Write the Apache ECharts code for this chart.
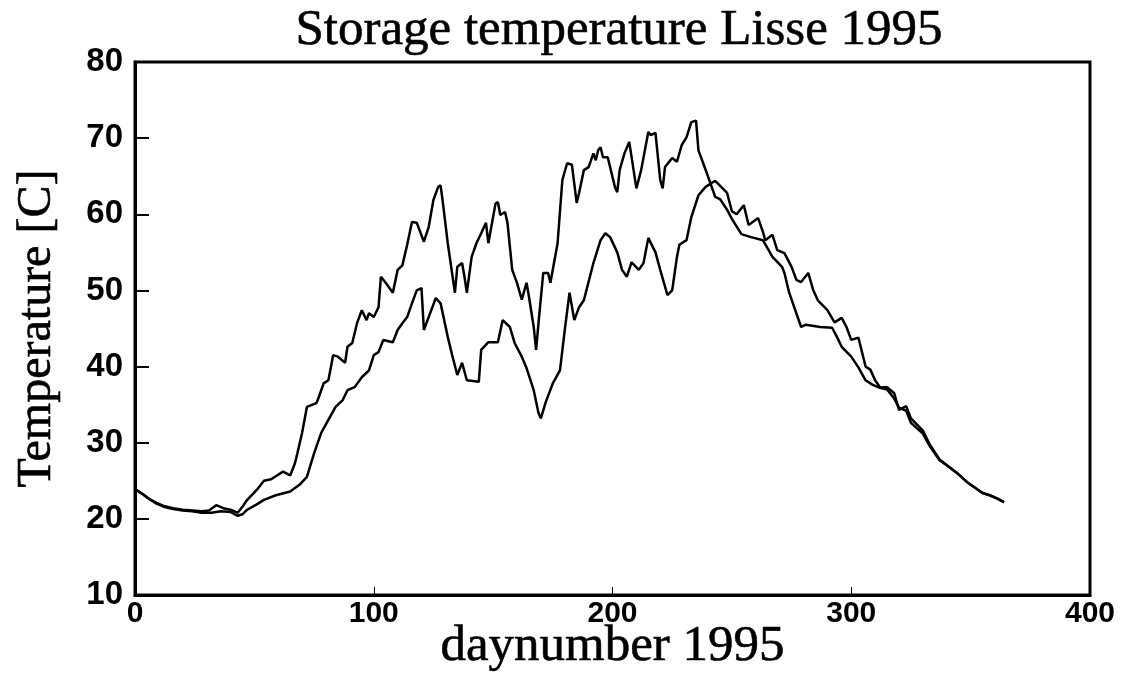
<!DOCTYPE html>
<html>
<head>
<meta charset="utf-8">
<script src="https://cdn.jsdelivr.net/npm/echarts@6/dist/echarts.min.js"></script>
<style>
  html, body { margin: 0; padding: 0; background: #fff; }
  #main { width: 1124px; height: 675px; }
</style>
</head>
<body>
<div id="main"></div>
<script>
// line 1: the warmer store (peaks near day 235)
var daysA = [0, 3, 6, 9, 12, 16, 20, 24, 28, 31, 34, 37, 40, 43, 45, 47, 51, 54, 57, 59,
  62, 65, 67, 68, 70, 72, 76, 77, 79, 81, 83, 85, 88, 89, 91, 93, 95, 97, 98, 100,
  102, 103, 105, 108, 110, 112, 114, 116, 118, 121, 123, 125, 127, 128, 129, 131, 134, 135, 137, 138,
  139, 141, 143, 145, 147, 148, 151, 152, 153, 155, 156, 158, 160, 162, 164, 165, 167, 168, 169, 171,
  173, 174, 177, 178, 179, 181, 183, 185, 186, 188, 190, 192, 193, 194, 195, 196, 198, 201, 202, 203,
  205, 207, 208, 210, 212, 215, 216, 218, 220, 221, 222, 225, 227, 229, 231, 233, 235, 236, 238, 241,
  243, 245, 248, 250, 254, 258, 263, 267, 271, 272, 274, 277, 279, 281, 287, 292, 294, 296, 300, 303,
  306, 309, 312, 315, 318, 320, 323, 325, 330, 333, 337, 341, 344, 349, 355, 358, 361, 364];
var tempA = [23.9, 23.3, 22.6, 22.1, 21.7, 21.4, 21.2, 21.1, 21.0, 21.1, 21.8, 21.4, 21.2, 20.8, 21.6, 22.5, 23.8, 25.0, 25.2, 25.6,
  26.2, 25.7, 27.3, 28.6, 31.3, 34.7, 35.2, 36.0, 37.8, 38.2, 41.5, 41.3, 40.5, 42.6, 43.1, 45.7, 47.4, 46.1, 47.0, 46.5,
  47.8, 51.8, 51.0, 49.7, 52.7, 53.3, 56.0, 59.0, 58.9, 56.4, 58.3, 61.9, 63.6, 63.8, 61.4, 56.2, 49.7, 53.1, 53.6, 51.8,
  49.7, 54.4, 56.2, 57.5, 58.9, 56.2, 61.4, 61.6, 59.9, 60.3, 58.9, 52.7, 51.0, 48.8, 51.0, 49.2, 45.2, 42.2, 45.7, 52.3,
  52.3, 51.0, 56.2, 60.4, 64.5, 66.7, 66.5, 61.5, 62.8, 65.8, 66.2, 68.0, 67.1, 68.4, 68.8, 67.5, 67.5, 63.6, 62.9, 65.8,
  68.0, 69.5, 67.5, 63.4, 65.8, 70.8, 70.4, 70.7, 64.5, 63.4, 66.2, 67.4, 66.9, 69.1, 70.1, 72.1, 72.3, 68.4, 66.7, 64.1,
  62.3, 62.0, 60.6, 59.4, 57.4, 57.0, 56.6, 54.4, 53.1, 52.3, 49.7, 47.0, 45.2, 45.5, 45.2, 45.1, 43.9, 42.6, 41.3, 39.9,
  38.2, 37.6, 37.2, 37.0, 35.8, 34.6, 34.2, 32.6, 31.2, 29.5, 27.7, 26.8, 26.1, 24.7, 23.4, 23.1, 22.7, 22.2];

// line 2: the cooler store
var daysB = [0, 3, 6, 9, 12, 16, 20, 24, 28, 32, 36, 40, 43, 45, 47, 51, 54, 59, 65, 69,
  72, 75, 78, 81, 84, 87, 89, 92, 95, 98, 100, 102, 104, 108, 110, 112, 114, 116, 118, 120,
  121, 123, 126, 128, 131, 133, 135, 137, 139, 144, 145, 148, 152, 154, 157, 159, 162, 164, 167, 169,
  170, 172, 175, 178, 180, 182, 184, 186, 188, 192, 195, 197, 199, 202, 204, 206, 208, 211, 213, 215,
  218, 220, 223, 225, 227, 228, 231, 233, 236, 239, 243, 248, 250, 252, 255, 257, 261, 263, 264, 267,
  269, 272, 275, 277, 279, 282, 284, 286, 290, 293, 296, 298, 300, 303, 306, 308, 310, 312, 315, 318,
  320, 323, 325, 330, 333, 337, 341, 344, 349, 355, 358, 361, 364];
var tempB = [23.9, 23.3, 22.6, 22.0, 21.6, 21.3, 21.1, 21.0, 20.8, 20.8, 21.0, 20.9, 20.4, 20.6, 21.2, 21.9, 22.5, 23.1, 23.6, 24.5,
  25.5, 28.6, 31.3, 33.0, 34.7, 35.6, 36.9, 37.3, 38.6, 39.5, 41.5, 41.9, 43.5, 43.2, 44.8, 45.7, 46.5, 48.3, 50.0, 50.3,
  44.8, 46.5, 49.0, 48.3, 43.9, 41.3, 38.9, 40.5, 38.2, 38.0, 42.2, 43.2, 43.2, 46.1, 45.2, 43.1, 41.3, 39.8, 36.9, 33.9,
  33.2, 35.3, 37.8, 39.5, 44.8, 49.7, 46.1, 47.8, 48.7, 53.6, 56.6, 57.5, 57.0, 55.0, 52.7, 51.8, 53.7, 52.7, 53.6, 56.9,
  55.0, 52.7, 49.4, 50.0, 54.4, 56.0, 56.6, 59.6, 62.5, 63.6, 64.4, 62.8, 60.4, 60.0, 61.2, 58.6, 59.5, 57.7, 56.6, 57.3,
  55.3, 54.9, 53.1, 51.4, 51.1, 52.3, 50.1, 48.7, 47.4, 45.8, 46.4, 45.2, 43.5, 43.8, 40.0, 39.6, 38.2, 37.3, 37.3, 36.5,
  34.3, 34.8, 33.2, 31.6, 29.7, 27.8, 26.8, 26.1, 24.7, 23.4, 23.1, 22.7, 22.2];

var xTicks = [0, 100, 200, 300, 400];
var yTicks = [10, 20, 30, 40, 50, 60, 70, 80];

function pairs(days, temps) {
  return days.map(function (d, i) { return [d, temps[i]]; });
}

var chart = echarts.init(document.getElementById('main'));
var serif = 'Liberation Serif';

chart.setOption({
  animation: false,
  backgroundColor: '#fff',
  title: {
    text: 'Storage temperature Lisse 1995',
    left: 614,
    top: 0,
    textAlign: 'center',
    textStyle: {
      fontFamily: serif, fontWeight: 'normal', fontSize: 51, color: '#000',
      textBorderColor: '#000', textBorderWidth: 0.6
    }
  },
  grid: {
    left: 135, top: 62, width: 955, height: 533,
    outerBoundsMode: 'none', containLabel: false,
    show: true, borderColor: '#000', borderWidth: 3, backgroundColor: 'transparent'
  },
  xAxis: {
    type: 'value',
    min: xTicks[0], max: xTicks[xTicks.length - 1], interval: 100,
    name: 'daynumber 1995',
    nameLocation: 'middle',
    nameGap: 26,
    nameMoveOverlap: false,
    nameTextStyle: {
      fontFamily: serif, fontSize: 51, color: '#000',
      textBorderColor: '#000', textBorderWidth: 0.6
    },
    axisLine: { lineStyle: { color: '#000', width: 3 } },
    axisTick: { inside: true, length: 8, lineStyle: { color: '#000', width: 1 } },
    axisLabel: {
      margin: 4, color: '#000', fontWeight: 'bold', fontSize: 30,
      fontFamily: 'Liberation Sans'
    },
    splitLine: { show: false }
  },
  yAxis: {
    type: 'value',
    min: yTicks[0], max: yTicks[yTicks.length - 1], interval: 10,
    name: 'Temperature [C]',
    nameLocation: 'middle',
    nameGap: 74,
    nameMoveOverlap: false,
    nameTextStyle: {
      fontFamily: serif, fontSize: 48, color: '#000',
      textBorderColor: '#000', textBorderWidth: 0.6
    },
    axisLine: { lineStyle: { color: '#000', width: 3 } },
    axisTick: { inside: true, length: 14, lineStyle: { color: '#000', width: 2 } },
    axisLabel: {
      margin: 12, color: '#000', fontWeight: 'bold', fontSize: 33,
      fontFamily: 'Liberation Sans'
    },
    splitLine: { show: false }
  },
  series: [
    {
      type: 'line', data: pairs(daysA, tempA), showSymbol: false,
      lineStyle: { color: '#000', width: 2.5 }, z: 3
    },
    {
      type: 'line', data: pairs(daysB, tempB), showSymbol: false,
      lineStyle: { color: '#000', width: 2.5 }, z: 3
    }
  ]
});
</script>
</body>
</html>
